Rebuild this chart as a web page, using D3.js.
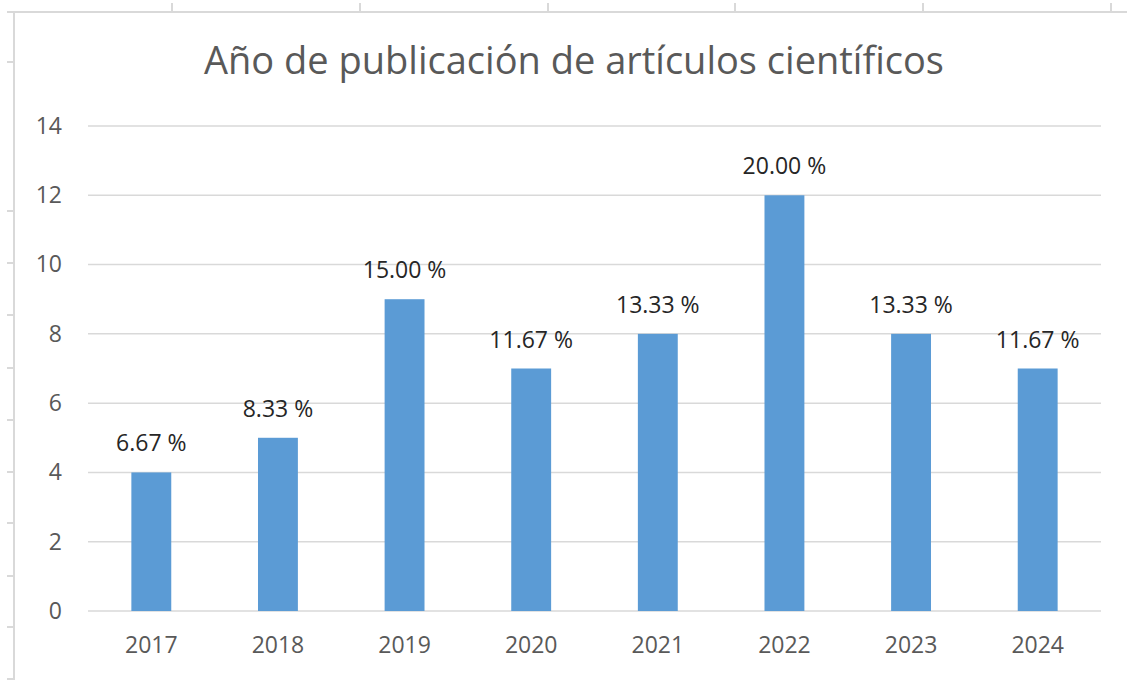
<!DOCTYPE html>
<html>
<head>
<meta charset="utf-8">
<script src="https://cdn.jsdelivr.net/npm/d3@7"></script>
<style>
  body { margin: 0; background: #fff; }
  svg { display: block; font-family: 'Open Sans', sans-serif; }
</style>
</head>
<body>
<svg width="1127" height="680"></svg>
<script>
// chart data
const years = ['2017', '2018', '2019', '2020', '2021', '2022', '2023', '2024'];
const counts = [4, 5, 9, 7, 8, 12, 8, 7];
const percentLabels = ['6.67 %', '8.33 %', '15.00 %', '11.67 %', '13.33 %', '20.00 %', '13.33 %', '11.67 %'];
const yTicks = [0, 2, 4, 6, 8, 10, 12, 14];
const titleText = 'Año de publicación de artículos científicos';

// spreadsheet frame tick positions
const colMarks = [172, 360, 548, 735, 923, 1111];
const rowMarks = [62, 211, 263, 315, 368, 420, 472, 523, 576, 627, 679];

const svg = d3.select('svg');
const margin = { top: 126, right: 26, bottom: 69, left: 88 };
const width = 1127 - margin.left - margin.right;
const height = 680 - margin.top - margin.bottom;

// spreadsheet cell edges behind the chart
const frame = svg.append('g').attr('stroke', '#d9d9d9').attr('stroke-width', 2);
frame.append('line').attr('x1', 7).attr('x2', 1127).attr('y1', 12).attr('y2', 12);
frame.append('line').attr('x1', 14).attr('x2', 14).attr('y1', 12).attr('y2', 680);
frame.selectAll('.cm').data(colMarks).enter().append('line')
  .attr('x1', d => d).attr('x2', d => d).attr('y1', 3).attr('y2', 12);
frame.selectAll('.rm').data(rowMarks).enter().append('line')
  .attr('x1', 7).attr('x2', 14).attr('y1', d => d).attr('y2', d => d);

svg.append('text')
  .attr('x', 574)
  .attr('y', 74)
  .attr('text-anchor', 'middle')
  .attr('fill', '#595959')
  .style('font-size', '38px')
  .text(titleText);

const g = svg.append('g')
  .attr('transform', 'translate(' + margin.left + ',' + margin.top + ')');

const x = d3.scaleBand().domain(years).range([0, width])
  .paddingInner(0.685).paddingOuter(0.3425);
const y = d3.scaleLinear().domain([0, 14]).range([height, 0]);

// gridlines
g.append('g')
  .selectAll('line')
  .data(yTicks)
  .enter()
  .append('line')
  .attr('x1', 0)
  .attr('x2', width)
  .attr('y1', d => y(d))
  .attr('y2', d => y(d))
  .attr('stroke', '#d9d9d9')
  .attr('stroke-width', 1.5);

// y axis labels
const yAxis = g.append('g')
  .call(d3.axisLeft(y).tickValues(yTicks).tickSize(0).tickPadding(26));
yAxis.select('.domain').remove();
yAxis.selectAll('text')
  .attr('fill', '#595959')
  .style('font-size', '23px')
  .style('font-family', "'Open Sans', sans-serif");

// x axis labels
const xAxis = g.append('g')
  .attr('transform', 'translate(0,' + height + ')')
  .call(d3.axisBottom(x).tickSize(0).tickPadding(26));
xAxis.select('.domain').remove();
xAxis.selectAll('text')
  .attr('fill', '#595959')
  .style('font-size', '23px')
  .style('font-family', "'Open Sans', sans-serif");

// bars
g.append('g')
  .selectAll('rect')
  .data(counts)
  .enter()
  .append('rect')
  .attr('x', (d, i) => x(years[i]))
  .attr('width', x.bandwidth())
  .attr('y', d => y(d))
  .attr('height', d => height - y(d))
  .attr('fill', '#5b9bd5');

// value labels
g.append('g')
  .selectAll('text')
  .data(counts)
  .enter()
  .append('text')
  .attr('x', (d, i) => x(years[i]) + x.bandwidth() / 2)
  .attr('y', d => y(d) - 21)
  .attr('text-anchor', 'middle')
  .attr('fill', '#262626')
  .style('font-size', '23px')
  .text((d, i) => percentLabels[i]);
</script>
</body>
</html>
